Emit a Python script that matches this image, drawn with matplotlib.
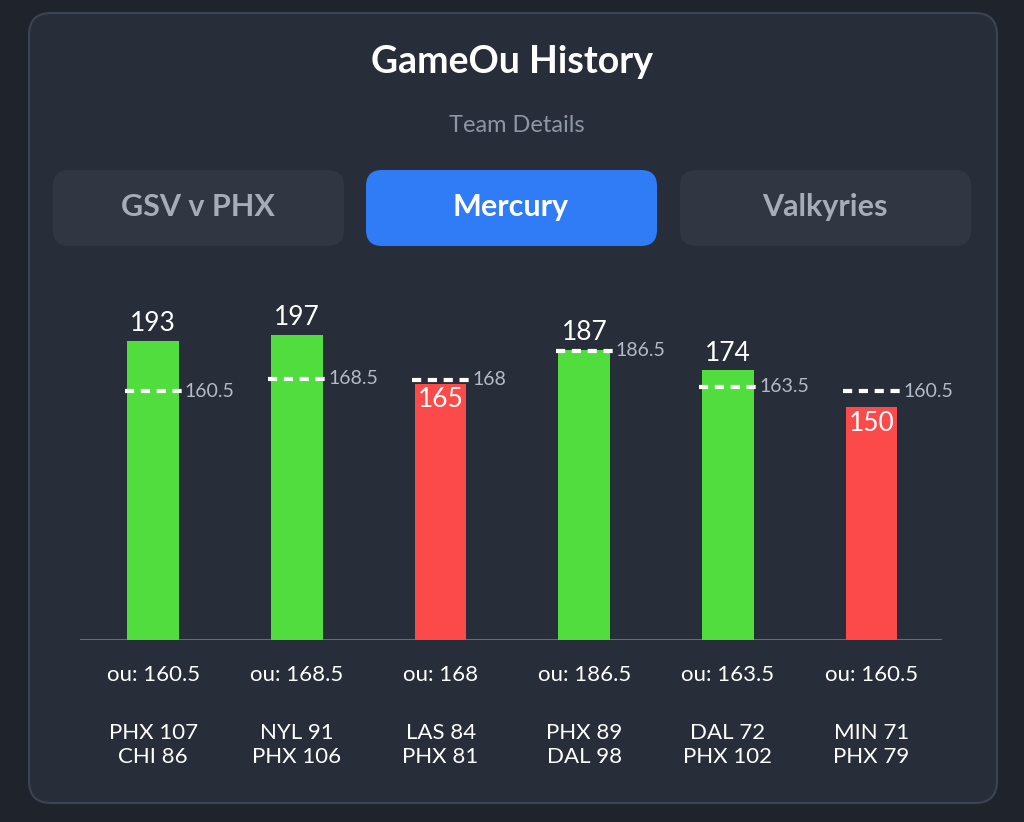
import matplotlib.pyplot as plt
from matplotlib.patches import FancyBboxPatch

totals = [193, 197, 165, 187, 174, 150]
lines = [160.5, 168.5, 168, 186.5, 163.5, 160.5]
line_labels = ["160.5", "168.5", "168", "186.5", "163.5", "160.5"]
games = ["PHX 107\nCHI 86", "NYL 91\nPHX 106", "LAS 84\nPHX 81",
         "PHX 89\nDAL 98", "DAL 72\nPHX 102", "MIN 71\nPHX 79"]
tabs = ["GSV v PHX", "Mercury", "Valkyries"]

W, H = 1024, 822
fig = plt.figure(figsize=(W / 100, H / 100), dpi=100)
fig.patch.set_facecolor("#1f242c")

bg = fig.add_axes([0, 0, 1, 1])
bg.set_xlim(0, W)
bg.set_ylim(H, 0)
bg.axis("off")

# card
bg.add_patch(FancyBboxPatch((29, 13), 968, 790, boxstyle="round,pad=0,rounding_size=22",
                            fc="#272e39", ec="#3c4452", lw=1.5))
bg.text(512, 62, "GameOu History", color="white", fontsize=27, fontweight="bold",
        ha="center", va="center", family="Lato")
bg.text(517, 125, "Team Details", color="#8d96a5", fontsize=17, ha="center", va="center",
        family="Lato")

tab_x = [53, 366, 680]
for x, name in zip(tab_x, tabs):
    active = name == "Mercury"
    bg.add_patch(FancyBboxPatch((x, 170), 291, 76, boxstyle="round,pad=0,rounding_size=16",
                                fc="#2f7cf6" if active else "#303743", ec="none"))
    bg.text(x + 145, 207, name, color="white" if active else "#a6adb8", fontsize=22,
            fontweight="bold", ha="center", va="center", family="Lato")

# chart
ax = fig.add_axes([80 / W, (H - 640) / H, 862 / W, 341 / H])
ax.set_facecolor("none")
ax.set_xlim(-0.51, 5.49)
ax.set_ylim(0, 220)
ax.axis("off")
ax.axhline(0, color="#6a7486", lw=2)

for i, (t, ln, lab) in enumerate(zip(totals, lines, line_labels)):
    over = t > ln
    ax.bar(i, t, width=0.36, color="#52dd3f" if over else "#fc4a4a", zorder=2)
    ax.plot([i - 0.2, i + 0.2], [ln, ln], color="white", lw=3, ls=(0, (2.2, 1.6)), zorder=3)
    ax.text(i + 0.22, ln, lab, color="#b4bbc6", fontsize=14, va="center", ha="left",
            family="Lato")
    if over:
        ax.text(i, t + 3, str(t), color="white", fontsize=19, ha="center", va="bottom",
                family="Lato")
    else:
        ax.text(i, t - 2, str(t), color="white", fontsize=19, ha="center", va="top",
                family="Lato")

    x_px = 80 + (i + 0.51) * 862 / 6
    bg.text(x_px, 675, f"ou: {lab}", color="white", fontsize=16, ha="center", va="center",
            family="Lato")
    bg.text(x_px, 745, games[i], color="white", fontsize=16, ha="center", va="center",
            linespacing=1.3, family="Lato")

fig.savefig("out.png", dpi=100, facecolor=fig.get_facecolor())
